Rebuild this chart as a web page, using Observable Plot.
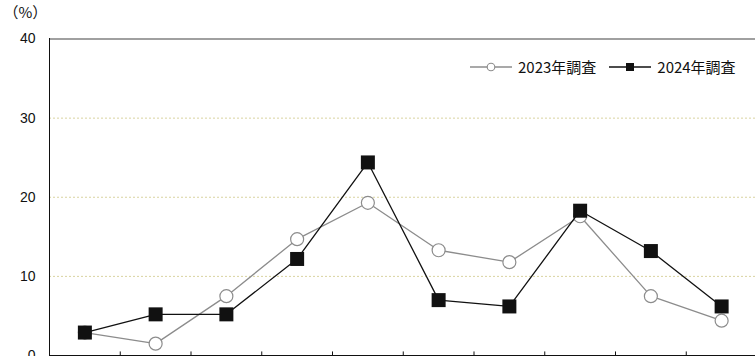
<!DOCTYPE html>
<html>
<head>
<meta charset="utf-8">
<script src="https://cdn.jsdelivr.net/npm/d3@7"></script>
<script src="https://cdn.jsdelivr.net/npm/@observablehq/plot@0.6"></script>
<style>
  html, body { margin: 0; padding: 0; background: #fff; }
  #wrap { position: relative; width: 755px; height: 356px; overflow: hidden; }
  #legend { position: absolute; left: 470px; top: 56px; display: flex; align-items: center;
    font-family: "Noto Sans CJK JP", sans-serif; font-size: 15px; color: #111; white-space: nowrap; }
  #legend .item { display: flex; align-items: center; margin-right: 13px; }
  #legend svg { margin-right: 6px; }
</style>
</head>
<body>
<div id="wrap"><div id="legend"></div></div>
<script>
const categories = ["1", "2", "3", "4", "5", "6", "7", "8", "9", "10"];
const seriesNames = ["2023年調査", "2024年調査"];
const values2023 = [2.9, 1.5, 7.5, 14.7, 19.3, 13.3, 11.8, 17.6, 7.5, 4.4];
const values2024 = [2.9, 5.2, 5.2, 12.2, 24.4, 7.0, 6.2, 18.3, 13.2, 6.2];
const yTicks = [0, 10, 20, 30, 40];
const yUnit = "（%）";

const data = [];
categories.forEach((c, i) => {
  data.push({cat: c, idx: i + 0.5, series: seriesNames[0], value: values2023[i]});
  data.push({cat: c, idx: i + 0.5, series: seriesNames[1], value: values2024[i]});
});
const d23 = data.filter(d => d.series === seriesNames[0]);
const d24 = data.filter(d => d.series === seriesNames[1]);
const bounds = d3.range(1, categories.length);

const font = "'Liberation Sans', Arial, sans-serif";

const chart = Plot.plot({
  width: 755,
  height: 356,
  marginLeft: 49,
  marginRight: 0,
  marginTop: 38,
  marginBottom: 1,
  style: {fontFamily: font, fontSize: "14px", color: "#111", background: "#fff"},
  x: {domain: [0, categories.length], range: [49, 756.5], axis: null},
  y: {domain: [0, 40], range: [355, 38.5], axis: null},
  marks: [
    Plot.gridY(yTicks.filter(t => t > 0 && t < 40), {stroke: "#d9d3a0", strokeOpacity: 1, strokeDasharray: "2,2", strokeWidth: 1}),
    Plot.ruleY([40], {stroke: "#808080", strokeWidth: 1.5}),
    Plot.ruleX([0], {stroke: "#111", strokeWidth: 1}),
    Plot.ruleY([0], {stroke: "#111", strokeWidth: 1}),
    Plot.ruleX(bounds, {x: d => d, y1: 0, y2: 0.45, stroke: "#111", strokeWidth: 1}),
    Plot.axisY(yTicks, {tickSize: 0, tickPadding: 14, fontSize: 14, fill: "#111", label: null}),
    Plot.text([yUnit], {frameAnchor: "top-left", dx: -46, dy: -31, text: d => d, fontSize: 15, fontFamily: "'Noto Sans CJK JP', sans-serif", textAnchor: "start", fill: "#111"}),
    Plot.line(d23, {x: "idx", y: "value", stroke: "#8c8c8c", strokeWidth: 1.3}),
    Plot.dot(d23, {x: "idx", y: "value", r: 6.5, fill: "#fff", stroke: "#8c8c8c", strokeWidth: 1.2}),
    Plot.line(d24, {x: "idx", y: "value", stroke: "#111", strokeWidth: 1.3}),
    Plot.dot(d24, {x: "idx", y: "value", symbol: "square", r: 7.9, fill: "#111", stroke: "none"})
  ]
});
document.getElementById("wrap").prepend(chart);

// Legend
const legend = document.getElementById("legend");
seriesNames.forEach((name, i) => {
  const item = document.createElement("div");
  item.className = "item";
  const sw = i === 0
    ? `<svg width="42" height="12"><line x1="0" x2="42" y1="6" y2="6" stroke="#8c8c8c" stroke-width="1.3"/><circle cx="21" cy="6" r="3.8" fill="#fff" stroke="#8c8c8c" stroke-width="1.1"/></svg>`
    : `<svg width="42" height="12"><line x1="0" x2="42" y1="6" y2="6" stroke="#111" stroke-width="1.3"/><rect x="17" y="2" width="8" height="8" fill="#111"/></svg>`;
  item.innerHTML = sw + `<span>${name}</span>`;
  legend.appendChild(item);
});
</script>
</body>
</html>
